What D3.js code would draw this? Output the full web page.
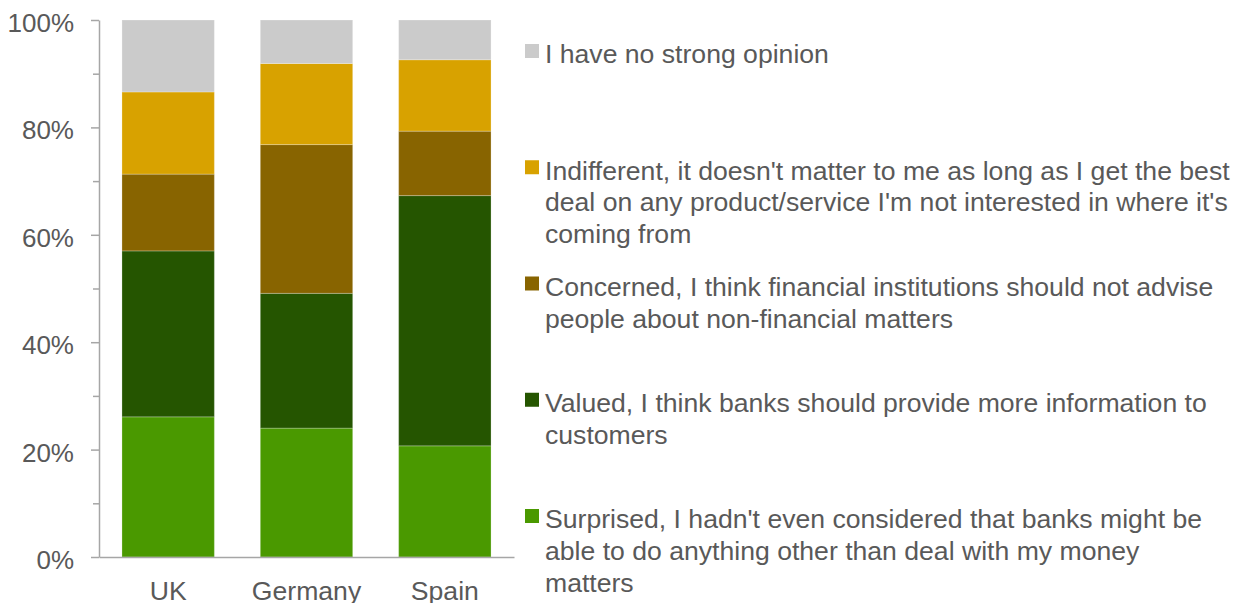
<!DOCTYPE html>
<html>
<head>
<meta charset="utf-8">
<script src="https://cdn.jsdelivr.net/npm/d3@7"></script>
<style>
  html, body { margin: 0; padding: 0; background: #fff; }
  svg { display: block; font-family: "Liberation Sans", Arial, sans-serif; }
</style>
</head>
<body>
<svg id="chart" width="1237" height="603"></svg>
<script>
// Countries along the x axis
const countries = ["UK", "Germany", "Spain"];

// Response shares per country (percent), bottom segment first
const surprised   = [26.1, 24.0, 20.7];
const valued      = [30.9, 25.1, 46.6];
const concerned   = [14.3, 27.7, 12.0];
const indifferent = [15.3, 15.1, 13.3];
const noOpinion   = [13.4,  8.1,  7.4];

const seriesKeys = ["surprised", "valued", "concerned", "indifferent", "noOpinion"];
const seriesColors = ["#4a9900", "#255500", "#886400", "#d8a200", "#cbcbcb"];

// Legend entries, top to bottom, with their line breaks
const legendLines = [
  ["I have no strong opinion"],
  ["Indifferent, it doesn't matter to me as long as I get the best",
   "deal on any product/service I'm not interested in where it's",
   "coming from"],
  ["Concerned, I think financial institutions should not advise",
   "people about non-financial matters"],
  ["Valued, I think banks should provide more information to",
   "customers"],
  ["Surprised, I hadn't even considered that banks might be",
   "able to do anything other than deal with my money",
   "matters"]
];
const legendColors = ["#cbcbcb", "#d8a200", "#886400", "#255500", "#4a9900"];

const yTicks = [0, 20, 40, 60, 80, 100];
const yMinorTicks = [10, 30, 50, 70, 90];

const table = countries.map((c, i) => ({
  country: c,
  surprised: surprised[i],
  valued: valued[i],
  concerned: concerned[i],
  indifferent: indifferent[i],
  noOpinion: noOpinion[i]
}));

const svg = d3.select("#chart");
const textColor = "#595959";
const axisColor = "#a6a6a6";
const fontStack = "'Liberation Sans', Arial, sans-serif";

const x = d3.scaleBand()
  .domain(countries)
  .range([99, 514])
  .paddingInner(0.332)
  .paddingOuter(0.166);

const y = d3.scaleLinear().domain([0, 100]).range([557, 20]);

const layers = d3.stack().keys(seriesKeys)(table);

// Stacked bars
const g = svg.append("g");
layers.forEach((layer, li) => {
  g.selectAll(null)
    .data(layer)
    .enter()
    .append("rect")
    .attr("x", d => x(d.data.country))
    .attr("width", x.bandwidth())
    .attr("y", d => y(d[1]))
    .attr("height", d => y(d[0]) - y(d[1]))
    .attr("fill", seriesColors[li])
    .attr("stroke", "rgba(255,255,255,0.25)")
    .attr("stroke-width", 1);
});

// Y axis with major and minor ticks
const yAxis = svg.append("g")
  .attr("transform", "translate(99,0)")
  .call(d3.axisLeft(y).tickValues(yTicks).tickFormat(d => d + "%").tickSize(8).tickSizeOuter(0));
yAxis.select(".domain").attr("stroke", axisColor).attr("stroke-width", 1.5);
yAxis.selectAll(".tick line").attr("stroke", axisColor).attr("stroke-width", 1.5);
yAxis.selectAll(".tick text")
  .attr("x", -25)
  .attr("dy", "0.44em")
  .attr("fill", textColor)
  .style("font-size", "26px")
  .style("font-family", fontStack);

svg.append("g")
  .attr("transform", "translate(99,0)")
  .call(d3.axisLeft(y).tickValues(yMinorTicks).tickFormat("").tickSize(6).tickSizeOuter(0))
  .call(a => a.select(".domain").remove())
  .selectAll(".tick line").attr("stroke", axisColor).attr("stroke-width", 1.5);

// X axis
const xAxis = svg.append("g")
  .attr("transform", "translate(0,557)")
  .call(d3.axisBottom(x).tickSize(0).tickSizeOuter(0));
xAxis.select(".domain").attr("stroke", axisColor).attr("stroke-width", 1.5);
xAxis.selectAll(".tick text")
  .attr("y", 43)
  .attr("dy", "0")
  .attr("fill", textColor)
  .style("font-size", "26.6px")
  .style("font-family", fontStack);

// Legend
const legend = svg.append("g");
const legendTop = 63.3;      // baseline of the first line of the first entry
const legendStep = 116.25;
const lineGap = 31.7;
legendLines.forEach((lines, i) => {
  const base = legendTop + i * legendStep;
  legend.append("rect")
    .attr("x", 525)
    .attr("y", base - 19.3)
    .attr("width", 14)
    .attr("height", 14)
    .attr("fill", legendColors[i]);
  const t = legend.append("text")
    .attr("fill", textColor)
    .style("font-size", "26.6px");
  lines.forEach((ln, j) => {
    t.append("tspan")
      .attr("x", 545)
      .attr("y", base + j * lineGap)
      .text(ln);
  });
});
</script>
</body>
</html>
